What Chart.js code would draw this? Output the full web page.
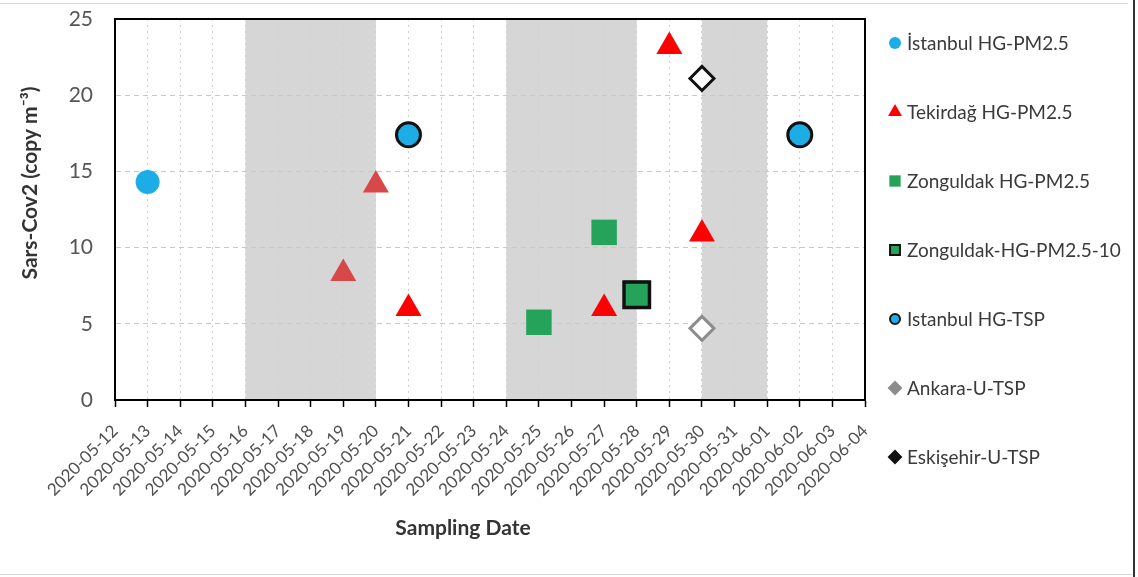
<!DOCTYPE html>
<html>
<head>
<meta charset="utf-8">
<script src="https://cdn.jsdelivr.net/npm/chart.js@4"></script>
<style>
  html, body { margin: 0; padding: 0; background: #fff; }
  #wrap { width: 1138px; height: 577px; position: relative; }
</style>
</head>
<body>
<div id="wrap"><canvas id="chart"></canvas></div>
<script>
// 日付カテゴリ（x軸）
const dates = [
  '2020-05-12', '2020-05-13', '2020-05-14', '2020-05-15', '2020-05-16', '2020-05-17',
  '2020-05-18', '2020-05-19', '2020-05-20', '2020-05-21', '2020-05-22', '2020-05-23',
  '2020-05-24', '2020-05-25', '2020-05-26', '2020-05-27', '2020-05-28', '2020-05-29',
  '2020-05-30', '2020-05-31', '2020-06-01', '2020-06-02', '2020-06-03', '2020-06-04'
];
const yTicks = [0, 5, 10, 15, 20, 25];

// 灰色の期間
const shadedStarts = ['2020-05-16', '2020-05-24', '2020-05-30'];
const shadedEnds = ['2020-05-20', '2020-05-28', '2020-06-01'];

// 系列
const seriesNames = [
  'İstanbul HG-PM2.5', 'Tekirdağ HG-PM2.5', 'Zonguldak HG-PM2.5',
  'Zonguldak-HG-PM2.5-10', 'Istanbul HG-TSP', 'Ankara-U-TSP', 'Eskişehir-U-TSP'
];
const istanbulPmDates = ['2020-05-13'];
const istanbulPmValues = [14.3];
const tekirdagDates = ['2020-05-19', '2020-05-20', '2020-05-21', '2020-05-27', '2020-05-29', '2020-05-30'];
const tekirdagValues = [8.3, 14.1, 6.0, 6.0, 23.2, 10.9];
const zonguldakPmDates = ['2020-05-25', '2020-05-27', '2020-05-28'];
const zonguldakPmValues = [5.1, 11.0, 7.0];
const zonguldakPm10Dates = ['2020-05-28'];
const zonguldakPm10Values = [6.9];
const istanbulTspDates = ['2020-05-21', '2020-06-02'];
const istanbulTspValues = [17.4, 17.4];
const ankaraDates = ['2020-05-30'];
const ankaraValues = [4.7];
const eskisehirDates = ['2020-05-30'];
const eskisehirValues = [21.1];

const pts = (ds, vs) => ds.map((d, i) => ({ x: d, y: vs[i] }));

const FONT = 'Lato, "Open Sans", sans-serif';
const CYAN = '#1DADE6';
const RED = '#FF0000';
const GREEN = '#25A35B';

const datasets = [
  { label: seriesNames[0], data: pts(istanbulPmDates, istanbulPmValues),
    pointStyle: 'circle', pointRadius: 12, backgroundColor: CYAN, borderWidth: 0,
    legendRadius: 6 },
  { label: seriesNames[1], data: pts(tekirdagDates, tekirdagValues),
    pointStyle: 'triangle', pointRadius: 15, borderWidth: 0,
    backgroundColor: ['#D84848', '#D84848', RED, RED, RED, RED], legendColor: RED,
    legendRadius: 8 },
  { label: seriesNames[2], data: pts(zonguldakPmDates, zonguldakPmValues),
    pointStyle: 'rect', pointRadius: 18, backgroundColor: GREEN, borderWidth: 0,
    legendRadius: 8 },
  { label: seriesNames[3], data: pts(zonguldakPm10Dates, zonguldakPm10Values),
    pointStyle: 'rect', pointRadius: 18, backgroundColor: GREEN, borderColor: '#111',
    borderWidth: 3.5, legendRadius: 7 },
  { label: seriesNames[4], data: pts(istanbulTspDates, istanbulTspValues),
    pointStyle: 'circle', pointRadius: 12, backgroundColor: CYAN, borderColor: '#111',
    borderWidth: 3, legendRadius: 5 },
  { label: seriesNames[5], data: pts(ankaraDates, ankaraValues),
    pointStyle: 'rectRot', pointRadius: 12, backgroundColor: '#fff', borderColor: '#8C8C8C',
    borderWidth: 3, legendRadius: 6, legendColor: '#8C8C8C' },
  { label: seriesNames[6], data: pts(eskisehirDates, eskisehirValues),
    pointStyle: 'rectRot', pointRadius: 12, backgroundColor: '#fff', borderColor: '#111',
    borderWidth: 3, legendRadius: 6, legendColor: '#111' }
];
// 後の系列を上に描く
datasets.forEach((d, i) => { d.order = datasets.length - i; d.pointHoverRadius = d.pointRadius; });

// 灰色帯・枠・軸タイトル・凡例
const shadePlugin = {
  id: 'shade',
  beforeDraw(chart) {
    const { ctx, chartArea, scales } = chart;
    ctx.save();
    ctx.fillStyle = '#D6D6D6';
    shadedStarts.forEach((s, i) => {
      const x0 = scales.x.getPixelForValue(dates.indexOf(s));
      const x1 = scales.x.getPixelForValue(dates.indexOf(shadedEnds[i]));
      ctx.fillRect(x0, chartArea.top, x1 - x0, chartArea.bottom - chartArea.top);
    });
    ctx.restore();
  },
  beforeDatasetsDraw(chart) {
    const { ctx, chartArea } = chart;
    ctx.save();
    ctx.strokeStyle = '#000';
    ctx.lineWidth = 2;
    ctx.strokeRect(chartArea.left, chartArea.top, chartArea.right - chartArea.left, chartArea.bottom - chartArea.top);
    ctx.restore();
  },
  afterDraw(chart) {
    const { ctx } = chart;
    ctx.save();
    ctx.fillStyle = '#333';
    ctx.textAlign = 'center';
    ctx.textBaseline = 'middle';
    ctx.font = `bold 21px ${FONT}`;
    ctx.fillText('Sampling Date', 463, 528);
    ctx.translate(30, 183);
    ctx.rotate(-Math.PI / 2);
    ctx.fillText('Sars-Cov2 (copy m⁻³)', 0, 0);
    ctx.restore();

    // 凡例
    ctx.save();
    const H = Chart.helpers;
    datasets.forEach((d, i) => {
      const y = 43 + i * 69;
      const col = Array.isArray(d.backgroundColor) ? d.legendColor : d.backgroundColor;
      ctx.fillStyle = d.pointStyle === 'rectRot' ? d.legendColor : col;
      ctx.strokeStyle = d.borderColor || col;
      ctx.lineWidth = d.borderWidth ? 2 : 0;
      if (H && H.drawPoint) {
        H.drawPoint(ctx, { pointStyle: d.pointStyle, radius: d.legendRadius, rotation: 0, borderWidth: d.borderWidth ? 2 : 0 }, 895, y);
      }
      ctx.fillStyle = '#3A3A3A';
      ctx.font = `19px ${FONT}`;
      ctx.textAlign = 'left';
      ctx.textBaseline = 'middle';
      ctx.fillText(d.label, 907, y + 1);
    });
    ctx.restore();

    // 外枠
    ctx.save();
    ctx.strokeStyle = '#D8D8D8';
    ctx.lineWidth = 1;
    ctx.beginPath();
    ctx.moveTo(0, 3.5); ctx.lineTo(1128, 3.5);
    ctx.moveTo(0, 574.5); ctx.lineTo(1132, 574.5);
    ctx.stroke();
    ctx.strokeStyle = '#333';
    ctx.lineWidth = 2;
    ctx.beginPath();
    ctx.moveTo(1134, 0); ctx.lineTo(1134, 577);
    ctx.stroke();
    ctx.restore();
  }
};

new Chart(document.getElementById('chart'), {
  type: 'scatter',
  data: { datasets },
  options: {
    responsive: true,
    maintainAspectRatio: false,
    animation: false,
    layout: { autoPadding: false, padding: { left: 10, top: 19, right: 273, bottom: 0 } },
    plugins: { legend: { display: false }, tooltip: { enabled: false } },
    scales: {
      x: {
        type: 'category',
        labels: dates,
        offset: false,
        afterFit: (s) => { s.height = 177; },
        grid: { color: '#D0D0D0', tickColor: '#000', tickLength: 7, tickWidth: 1.5 },
        border: { color: '#000', width: 2, dash: [2, 4] },
        ticks: {
          autoSkip: false, minRotation: 45, maxRotation: 45, padding: 14,
          color: '#505050', font: { family: FONT, size: 17 }
        }
      },
      y: {
        min: 0, max: 25,
        afterFit: (s) => { s.width = 105; s.paddingTop = 0; s.paddingBottom = 0; },
        afterBuildTicks: (s) => { s.ticks = yTicks.map(v => ({ value: v })); },
        grid: { color: '#C8C8C8', drawTicks: false },
        border: { color: '#000', width: 2, dash: [5, 4] },
        ticks: {
          padding: 22, color: '#555', font: { family: FONT, size: 21 }
        }
      }
    }
  },
  plugins: [shadePlugin]
});
</script>
</body>
</html>
